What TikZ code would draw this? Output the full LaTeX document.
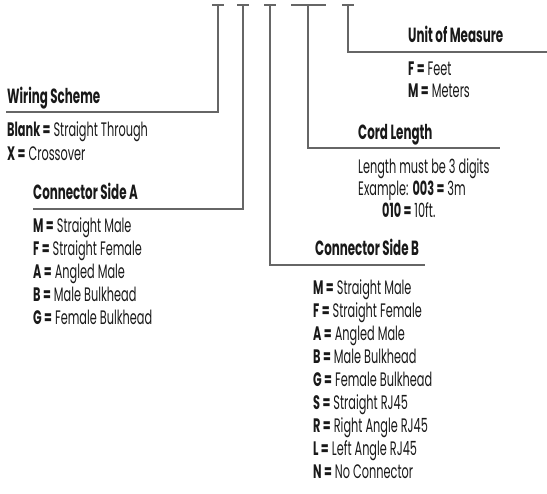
\documentclass[tikz,border=0pt]{standalone}
\usepackage{fontspec}
\setmainfont{Poppins}[FakeStretch=0.58]
\usetikzlibrary{positioning}

\begin{document}
\begin{tikzpicture}[x=1pt, y=-1pt,
    rule/.style={draw=black!60, line width=1.1pt},
    heading/.style={anchor=base west, inner sep=0pt, text=black!90,
        font=\fontsize{20.5}{24}\selectfont\bfseries},
    item/.style={anchor=base west, inner sep=0pt, text=black!90,
        font=\fontsize{19.5}{23}\selectfont}
]
\useasboundingbox (0,0) rectangle (547,494);

% tick marks on top
\coordinate (T1) at (218,5);
\coordinate (T2) at (243,5);
\coordinate (T3) at (270,5);
\coordinate (T4) at (308,5);
\coordinate (T5) at (348,5);
\draw [rule] ([xshift=-6pt]T1) -- ([xshift=6pt]T1);
\draw [rule] ([xshift=-6pt]T2) -- ([xshift=6pt]T2);
\draw [rule] ([xshift=-6pt]T3) -- ([xshift=6pt]T3);
\draw [rule] ([xshift=-17pt]T4) -- ([xshift=18pt]T4);
\draw [rule] ([xshift=-6pt]T5) -- ([xshift=6pt]T5);

% Wiring Scheme
\node [heading] (Wiring) at (7,104) {Wiring Scheme};
\coordinate (WiringL) at (6,112);
\draw [rule] (WiringL) -- (WiringL -| T1) -- (T1);
\node [item] (W1) at (7,137) {\textbf{Blank =} Straight Through};
\node [item] (W2) at (7,161) {\textbf{X =} Crossover};

% Connector Side A
\node [heading] (SideA) at (33,200) {Connector Side A};
\coordinate (SideAL) at (33,209);
\draw [rule] (SideAL) -- (SideAL -| T2) -- (T2);
\foreach \k/\v [count=\i] in {M/Straight Male, F/Straight Female, A/Angled Male,
    B/Male Bulkhead, G/Female Bulkhead}
    \node [item] (A\i) at (33,{233+23*(\i-1)}) {\textbf{\k\ =} \v};

% Connector Side B
\node [heading] (SideB) at (315,256) {Connector Side B};
\coordinate (SideBR) at (425,265);
\draw [rule] (T3) -- (T3 |- SideBR) -- (SideBR);
\foreach \k/\v [count=\i] in {M/Straight Male, F/Straight Female, A/Angled Male,
    B/Male Bulkhead, G/Female Bulkhead, S/Straight RJ45, R/Right Angle RJ45,
    L/Left Angle RJ45, N/No Connector}
    \node [item] (B\i) at (313,{295+23*(\i-1)}) {\textbf{\k\ =} \v};

% Cord Length
\node [heading] (Cord) at (358,140) {Cord Length};
\coordinate (CordR) at (500,148);
\draw [rule] (T4) -- (T4 |- CordR) -- (CordR);
\node [item] (C1) at (358,174) {Length must be 3 digits};
\node [item] (C2) at (358,196) {Example: \textbf{003 =} 3m};
\node [item] (C3) at (382,218) {\textbf{010 =} 10ft.};

% Unit of Measure
\node [heading] (Unit) at (408,43) {Unit of Measure};
\coordinate (UnitR) at (547,52);
\draw [rule] (T5) -- (T5 |- UnitR) -- (UnitR);
\node [item] (U1) at (408,76) {\textbf{F =} Feet};
\node [item] (U2) at (408,98) {\textbf{M =} Meters};

\end{tikzpicture}
\end{document}
